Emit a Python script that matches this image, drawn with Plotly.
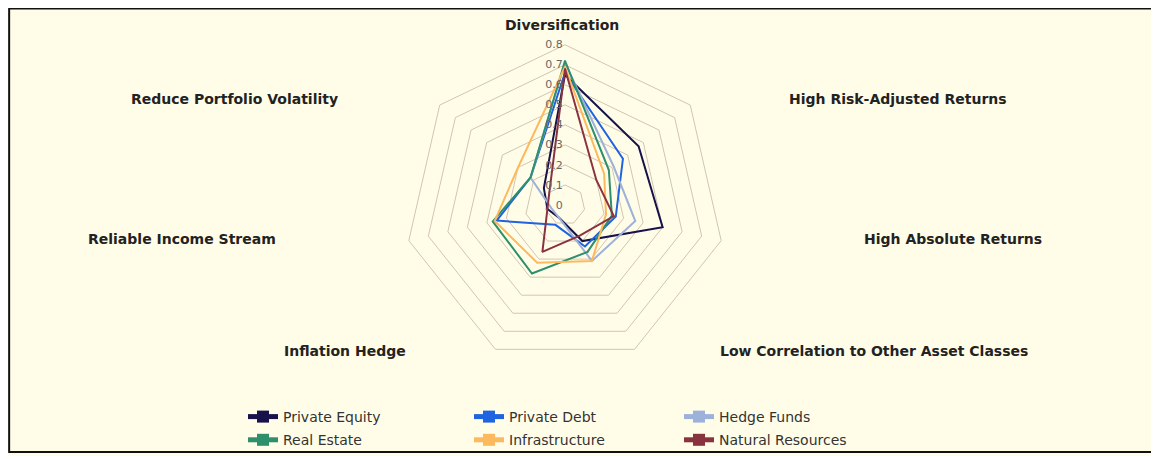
import plotly.graph_objects as go

categories = ["Diversification", "High Risk-Adjusted Returns", "High Absolute Returns",
              "Low Correlation to Other Asset Classes", "Inflation Hedge",
              "Reliable Income Stream", "Reduce Portfolio Volatility"]

private_equity = [0.65, 0.47, 0.50, 0.20, 0.07, 0.09, 0.135]
private_debt = [0.66, 0.37, 0.26, 0.23, 0.11, 0.35, 0.22]
hedge_funds = [0.71, 0.31, 0.36, 0.31, 0.07, 0.07, 0.22]
real_estate = [0.72, 0.28, 0.24, 0.26, 0.38, 0.37, 0.22]
infrastructure = [0.69, 0.25, 0.21, 0.31, 0.32, 0.36, 0.30]
natural_resources = [0.68, 0.20, 0.25, 0.17, 0.26, 0.09, 0.10]

series_names = ["Private Equity", "Private Debt", "Hedge Funds",
                "Real Estate", "Infrastructure", "Natural Resources"]
series_values = [private_equity, private_debt, hedge_funds,
                 real_estate, infrastructure, natural_resources]
colors = ["#17134a", "#1f63e0", "#9db2da", "#2e8f6c", "#fdb95e", "#8a3340"]
legend_ids = ["legend", "legend2", "legend3", "legend", "legend2", "legend3"]

radial_ticks = [0, 0.1, 0.2, 0.3, 0.4, 0.5, 0.6, 0.7, 0.8]

W, H = 1151, 448
OFF = 8  # page offset of the figure


def px_x(x):
    return (x - OFF) / W


def px_y(y):
    return 1 - (y - OFF) / H


fig = go.Figure()
for name, vals, col, lg in zip(series_names, series_values, colors, legend_ids):
    fig.add_trace(go.Scatterpolar(
        r=vals + vals[:1],
        theta=categories + categories[:1],
        mode="lines+markers",
        name=name,
        line=dict(color=col, width=2),
        marker=dict(symbol="square", size=1, color=col),
        legend=lg,
        legendgroup=name,
    ))

label_font = dict(family="DejaVu Sans", size=14, color="#222222", weight="bold")
label_pos = [
    (562, 25, "center"),
    (787, 100, "left"),
    (862, 241, "left"),
    (718, 353, "left"),
    (408, 353, "right"),
    (278, 241, "right"),
    (340, 100, "right"),
]
annotations = []
for cat, (px, py, anc) in zip(categories, label_pos):
    annotations.append(dict(
        text=cat, x=px_x(px), y=px_y(py), xref="paper", yref="paper",
        xanchor=anc, yanchor="middle", showarrow=False, font=label_font,
    ))

legend_common = dict(
    orientation="v", yanchor="top", xanchor="left",
    font=dict(family="DejaVu Sans", size=14, color="#333333"),
    bgcolor="rgba(0,0,0,0)", itemsizing="constant", itemwidth=30,
    tracegroupgap=2,
)

cx, cy, R = 565, 206.3, 161.3
fig.update_layout(
    width=W, height=H,
    margin=dict(l=0, r=0, t=0, b=0),
    paper_bgcolor="#fffde8",
    polar=dict(
        domain=dict(x=[px_x(cx) - 0.4, px_x(cx) + 0.4],
                    y=[px_y(cy + R), px_y(cy - R)]),
        bgcolor="rgba(0,0,0,0)",
        gridshape="linear",
        radialaxis=dict(
            range=[0, 0.8], tickvals=radial_ticks,
            ticktext=[f"{v:g}" for v in radial_ticks],
            angle=90, tickangle=90, side="counterclockwise",
            showline=False, ticks="",
            gridcolor="#d2c4b2", gridwidth=1,
            tickfont=dict(family="DejaVu Sans", size=11, color="#666666"),
        ),
        angularaxis=dict(
            direction="clockwise", rotation=90,
            showticklabels=False, ticks="", showgrid=False,
            showline=True, linecolor="#d2c4b2", linewidth=1,
        ),
    ),
    legend=dict(x=px_x(243), y=px_y(404), **legend_common),
    legend2=dict(x=px_x(469), y=px_y(404), **legend_common),
    legend3=dict(x=px_x(679), y=px_y(404), **legend_common),
    annotations=annotations,
    shapes=[dict(
        type="rect", xref="paper", yref="paper",
        x0=0.001, x1=1.02, y0=0.002, y1=0.999,
        line=dict(color="#111111", width=2), layer="below",
    )],
)

fig.write_html("out.html")
